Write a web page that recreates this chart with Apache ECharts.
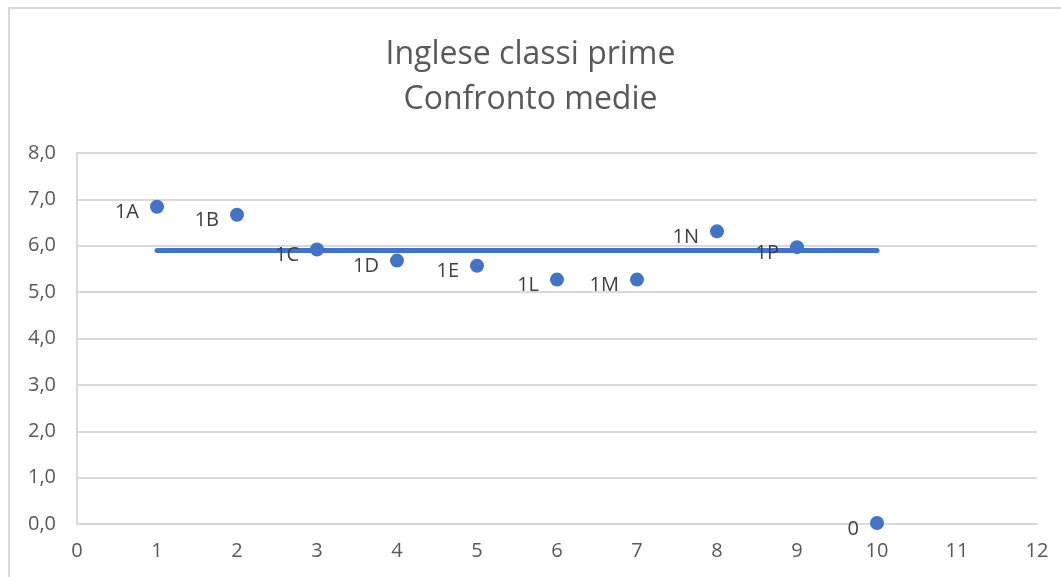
<!DOCTYPE html>
<html>
<head>
<meta charset="utf-8">
<script src="https://cdn.jsdelivr.net/npm/echarts@6/dist/echarts.min.js"></script>
<style>
  html, body { margin: 0; padding: 0; background: #fff; }
</style>
</head>
<body>
<div id="main" style="width: 1061px; height: 577px;"></div>
<script>
// classi e medie
const classLabels = ["1A", "1B", "1C", "1D", "1E", "1L", "1M", "1N", "1P", "0"];
const classX = [1, 2, 3, 4, 5, 6, 7, 8, 9, 10];
const classMeans = [6.84, 6.67, 5.92, 5.68, 5.57, 5.27, 5.27, 6.31, 5.97, 0.02];
// linea media generale
const meanLineX = [1, 10];
const meanLineY = [5.9, 5.9];

const myChart = echarts.init(document.getElementById("main"));

const option = {
  animation: false,
  backgroundColor: "#fff",
  textStyle: { fontFamily: "Open Sans" },
  title: {
    text: "Inglese classi prime\nConfronto medie",
    left: "center",
    top: 27,
    textStyle: {
      fontFamily: "Open Sans",
      fontSize: 32,
      fontWeight: "normal",
      color: "#595959",
      lineHeight: 45
    }
  },
  graphic: [{
    type: "rect",
    shape: { x: 9, y: 8, width: 1060, height: 575 },
    style: { fill: "none", stroke: "#d9d9d9", lineWidth: 2 },
    silent: true
  }],
  grid: { left: 77, right: 24, top: 153, bottom: 53 },
  xAxis: {
    type: "value",
    min: 0,
    max: 12,
    interval: 1,
    axisLine: { show: true, onZero: false, lineStyle: { color: "#d9d9d9", width: 2 } },
    axisTick: { show: false },
    splitLine: { show: false },
    axisLabel: { color: "#595959", fontSize: 20, margin: 17 }
  },
  yAxis: {
    type: "value",
    min: 0,
    max: 8,
    interval: 1,
    axisLine: { show: true, lineStyle: { color: "#d9d9d9", width: 2 } },
    axisTick: { show: false },
    splitLine: { lineStyle: { color: "#d9d9d9", width: 2 } },
    axisLabel: {
      color: "#595959",
      fontSize: 20,
      margin: 21,
      formatter: v => v.toFixed(1).replace(".", ",")
    }
  },
  series: [
    {
      name: "media",
      type: "line",
      data: meanLineX.map((x, i) => [x, meanLineY[i]]),
      symbol: "none",
      lineStyle: { color: "#4472C4", width: 5, cap: "round" },
      z: 1
    },
    {
      name: "classi",
      type: "scatter",
      data: classX.map((x, i) => ({ value: [x, classMeans[i]], name: classLabels[i] })),
      symbolSize: 14,
      itemStyle: { color: "#4472C4", opacity: 1 },
      label: {
        show: true,
        position: "left",
        distance: 11,
        offset: [0, 6],
        formatter: p => p.name,
        color: "#404040",
        fontSize: 20
      },
      z: 2
    }
  ]
};

myChart.setOption(option);
</script>
</body>
</html>
